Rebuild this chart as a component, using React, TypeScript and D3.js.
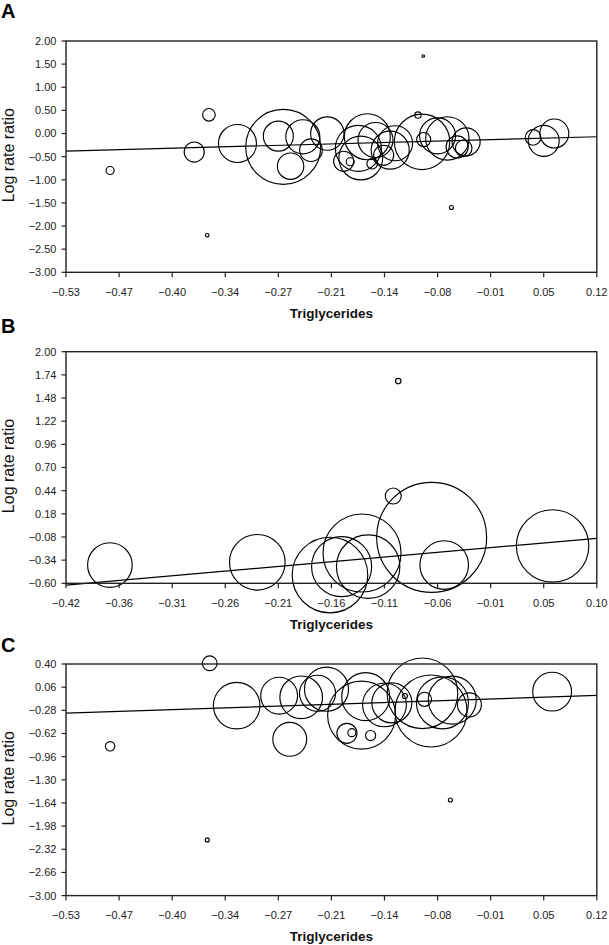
import React from "react";
import * as d3 from "d3";

// ---------- data ----------
// Panel A: [triglycerides, log rate ratio, weight]
const pointsA: [number, number, number][] = [
  [-0.476, -0.8, 1.0],
  [-0.355, 0.405, 2.5],
  [-0.357, -2.2, 0.2],
  [-0.373, -0.4, 6.3],
  [-0.32, -0.215, 22.6],
  [-0.264, -0.29, 87.9],
  [-0.27, -0.056, 14.1],
  [-0.255, -0.706, 10.9],
  [-0.24, -0.071, 18.1],
  [-0.23, -0.36, 8.0],
  [-0.21, 0.0, 17.4],
  [-0.19, -0.6, 6.3],
  [-0.182, -0.61, 1.0],
  [-0.172, -0.32, 33.1],
  [-0.169, -0.53, 30.0],
  [-0.161, -0.07, 33.1],
  [-0.151, -0.14, 19.1],
  [-0.155, -0.65, 1.8],
  [-0.141, -0.47, 6.3],
  [-0.133, -0.36, 22.6],
  [-0.127, -0.21, 19.1],
  [-0.094, -0.18, 48.0],
  [-0.092, -0.13, 3.1],
  [-0.099, 0.4, 0.64],
  [-0.0925, 1.675, 0.1],
  [-0.075, -0.05, 20.3],
  [-0.063, -0.106, 29.4],
  [-0.051, -0.29, 7.6],
  [-0.043, -0.32, 4.3],
  [-0.04, -0.18, 12.3],
  [-0.058, -1.6, 0.25],
  [0.042, -0.084, 3.8],
  [0.055, -0.158, 15.0],
  [0.068, 0.0, 13.1],
];

const pointsB: [number, number, number][] = [
  [-0.377, -0.395, 31.1],
  [-0.2326, -0.364, 48.3],
  [-0.1614, -0.507, 89.3],
  [-0.15, -0.413, 56.3],
  [-0.13, -0.26, 95.1],
  [-0.124, -0.413, 62.8],
  [-0.0994, 0.38, 4.0],
  [-0.0945, 1.67, 0.46],
  [-0.0618, -0.084, 189],
  [-0.0495, -0.395, 36.9],
  [0.0567, -0.181, 81.9],
];

const pointsC: [number, number, number][] = [
  [-0.476, -0.808, 1.4],
  [-0.354, 0.41, 3.4],
  [-0.357, -2.183, 0.25],
  [-0.321, -0.211, 33.9],
  [-0.269, -0.065, 21.2],
  [-0.256, -0.706, 17.9],
  [-0.242, -0.089, 28.4],
  [-0.222, -0.03, 20.3],
  [-0.211, 0.03, 30.3],
  [-0.186, -0.618, 6.3],
  [-0.18, -0.608, 1.0],
  [-0.163, -0.08, 36.0],
  [-0.168, -0.35, 72.3],
  [-0.157, -0.65, 1.6],
  [-0.14, -0.2, 30.0],
  [-0.131, -0.17, 25.0],
  [-0.115, -0.07, 0.4],
  [-0.0935, -0.03, 78.0],
  [-0.091, -0.118, 3.1],
  [-0.083, -0.29, 81.0],
  [-0.069, -0.17, 42.3],
  [-0.057, -0.13, 36.0],
  [-0.036, -0.2, 9.0],
  [-0.0593, -1.596, 0.25],
  [0.0653, -0.006, 23.5],
];

// regression lines: [intercept, slope]
const regA: [number, number] = [-0.127, 0.477];
const regB: [number, number] = [-0.196, 1.01];
const regC: [number, number] = [-0.11, 0.4];

// axis domains and tick labels
const xDomainA: [number, number] = [-0.53, 0.12];
const xDomainB: [number, number] = [-0.42, 0.1];
const xTicksA = [-0.53, -0.47, -0.4, -0.34, -0.27, -0.21, -0.14, -0.08, -0.01, 0.05, 0.12];
const xTicksB = [-0.42, -0.36, -0.31, -0.26, -0.21, -0.16, -0.11, -0.06, -0.01, 0.05, 0.1];
const yTicksA = [2.0, 1.5, 1.0, 0.5, 0.0, -0.5, -1.0, -1.5, -2.0, -2.5, -3.0];
const yTicksB = [2.0, 1.74, 1.48, 1.22, 0.96, 0.7, 0.44, 0.18, -0.08, -0.34, -0.6];
const yTicksC = [0.4, 0.06, -0.28, -0.62, -0.96, -1.3, -1.64, -1.98, -2.32, -2.66, -3.0];

const xTitle = "Triglycerides";
const yTitle = "Log rate ratio";

// ---------- layout ----------
const W = 609;
const H = 945;
const LEFT = 66;
const RIGHT = 596.8;
const FONT = "'Liberation Sans', Arial, Helvetica, sans-serif";
const fmt = d3.format(".2f");
const rScale = d3.scaleSqrt().domain([0, 100]).range([0, 40]);

type PanelProps = {
  letter: string;
  letterY: number;
  top: number;
  bottom: number;
  xDomain: [number, number];
  xTicks: number[];
  yTicks: number[];
  points: [number, number, number][];
  reg: [number, number];
};

function Panel({ letter, letterY, top, bottom, xDomain, xTicks, yTicks, points, reg }: PanelProps) {
  const yDomain: [number, number] = [yTicks[yTicks.length - 1], yTicks[0]];
  const x = d3.scaleLinear().domain(xDomain).range([LEFT, RIGHT]);
  const y = d3.scaleLinear().domain(yDomain).range([bottom, top]);
  const n = xTicks.length - 1;
  const step = (xDomain[1] - xDomain[0]) / n;
  const line = d3.line<number>()
    .x((d) => x(d))
    .y((d) => y(reg[0] + reg[1] * d));
  return (
    <g>
      <text x={1} y={letterY} fontFamily={FONT} fontWeight="bold" fontSize={20} fill="#000">
        {letter}
      </text>
      {points.map((p, i) => (
        <circle
          key={i}
          cx={x(p[0])}
          cy={y(p[1])}
          r={Math.max(rScale(p[2]), 1.2)}
          fill="none"
          stroke="#000"
          strokeWidth={1.15}
        />
      ))}
      <path d={line(xDomain) || ""} fill="none" stroke="#000" strokeWidth={1.2} />
      <rect x={LEFT} y={top} width={RIGHT - LEFT} height={bottom - top} fill="none" stroke="#222" strokeWidth={1.4} />
      {yTicks.map((t, i) => (
        <g key={"y" + i}>
          <line x1={LEFT - 4.5} x2={LEFT} y1={y(t)} y2={y(t)} stroke="#222" strokeWidth={1.2} />
          <text x={56.5} y={y(t) + 3.9} textAnchor="end" fontFamily={FONT} fontSize={11} fill="#222">
            {fmt(t)}
          </text>
        </g>
      ))}
      {xTicks.map((t, i) => {
        const px = x(xDomain[0] + i * step);
        return (
          <g key={"x" + i}>
            <line x1={px} x2={px} y1={bottom} y2={bottom + 5} stroke="#222" strokeWidth={1.2} />
            <text x={px} y={bottom + 23.4} textAnchor="middle" fontFamily={FONT} fontSize={11} fill="#222">
              {fmt(t)}
            </text>
          </g>
        );
      })}
      <text
        x={(LEFT + RIGHT) / 2}
        y={bottom + 45.7}
        textAnchor="middle"
        fontFamily={FONT}
        fontWeight="bold"
        fontSize={13.5}
        fill="#111"
      >
        {xTitle}
      </text>
      <text
        transform={`translate(13.5,${(top + bottom) / 2 - 1.5}) rotate(-90)`}
        textAnchor="middle"
        fontFamily={FONT}
        fontSize={16}
        fill="#111"
      >
        {yTitle}
      </text>
    </g>
  );
}

export default function App() {
  return (
    <svg
      width={W}
      height={H}
      viewBox={`0 0 ${W} ${H}`}
      style={{ position: "absolute", left: 0, top: 0, display: "block", background: "#fff" }}
    >
      <rect x={0} y={0} width={W} height={H} fill="#fff" />
      <Panel letter="A" letterY={17.5} top={41} bottom={272.3} xDomain={xDomainA} xTicks={xTicksA} yTicks={yTicksA} points={pointsA} reg={regA} />
      <Panel letter="B" letterY={333} top={351.7} bottom={583.3} xDomain={xDomainB} xTicks={xTicksB} yTicks={yTicksB} points={pointsB} reg={regB} />
      <Panel letter="C" letterY={652} top={664} bottom={895.6} xDomain={xDomainA} xTicks={xTicksA} yTicks={yTicksC} points={pointsC} reg={regC} />
    </svg>
  );
}
